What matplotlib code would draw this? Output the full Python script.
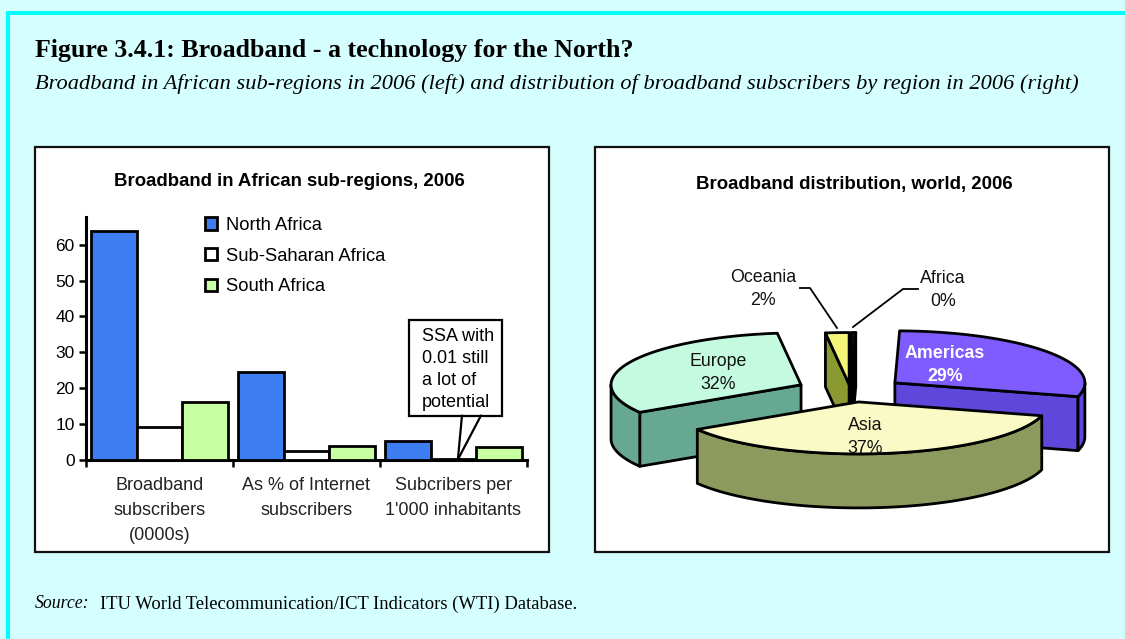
import numpy as np
import matplotlib
matplotlib.use("Agg")
import matplotlib.pyplot as plt
from matplotlib.patches import Rectangle, Polygon
import matplotlib.transforms as mtransforms

# ---------------- data ----------------
bar_categories = ["Broadband\nsubscribers\n(0000s)",
                  "As % of Internet\nsubscribers",
                  "Subcribers per\n1'000 inhabitants"]
series_names = ["North Africa", "Sub-Saharan Africa", "South Africa"]
north_africa = [63.8, 24.6, 5.2]
sub_saharan = [9.2, 2.4, 0.01]
south_africa = [16.1, 3.8, 3.5]
y_ticks = [0, 10, 20, 30, 40, 50, 60]

pie_regions = ["Africa", "Americas", "Asia", "Europe", "Oceania"]
pie_values = [0.4, 29, 37, 32, 2]

# ---------------- styles ----------------
W, H = 1125, 639
BG = "#D5FFFF"
SANS = ["Liberation Sans", "DejaVu Sans"]
SERIF = ["Liberation Serif", "DejaVu Serif"]
bar_colors = ["#3D7EF2", "#FFFFFF", "#C8FFA2"]

pie_top = {"Africa": "#111111", "Americas": "#7E5CFF", "Asia": "#FAFAC6",
           "Europe": "#C4FBE0", "Oceania": "#F4F47A"}
pie_side = {"Africa": "#000000", "Americas": "#5E47DA", "Asia": "#8C9A5E",
            "Europe": "#66A892", "Oceania": "#8A9A30"}
explode = {"Africa": 25, "Americas": 55, "Asia": 55, "Europe": 55, "Oceania": 25}
label_pos = {"Africa": (943, 290), "Americas": (945, 365), "Asia": (865, 437),
             "Europe": (718, 373), "Oceania": (763, 289)}
draw_order = ["Europe", "Americas", "Oceania", "Africa", "Asia"]

fig = plt.figure(figsize=(W / 100, H / 100), dpi=100)
fig.patch.set_facecolor(BG)

canvas = fig.add_axes([0, 0, 1, 1])
canvas.set_xlim(0, W)
canvas.set_ylim(H, 0)
canvas.axis("off")

# cyan frame
canvas.add_patch(Rectangle((6, 11), W - 6, 3.5, color="#00FFFF", lw=0))
canvas.add_patch(Rectangle((6, 11), 4, H - 11, color="#00FFFF", lw=0))

# panel boxes
canvas.add_patch(Rectangle((35, 147), 549 - 35, 552 - 147, facecolor="white",
                           edgecolor="#111111", lw=1.6))
canvas.add_patch(Rectangle((595, 147), 1109 - 595, 552 - 147, facecolor="white",
                           edgecolor="#111111", lw=1.6))

# headings
canvas.text(35, 50, "Figure 3.4.1: Broadband - a technology for the North?",
            family=SERIF, fontweight="bold", fontsize=18.6, va="center", ha="left")
canvas.text(35, 84, "Broadband in African sub-regions in 2006 (left) and distribution "
            "of broadband subscribers by region in 2006 (right)",
            family=SERIF, style="italic", fontsize=16.1, va="center", ha="left")
canvas.text(35, 604, "Source:", family=SERIF, style="italic", fontsize=12.8,
            va="center", ha="left")
canvas.text(100, 604, "ITU World Telecommunication/ICT Indicators (WTI) Database.",
            family=SERIF, fontsize=13.4, va="center", ha="left")

# chart titles
canvas.text(289, 182, "Broadband in African sub-regions, 2006", family=SANS,
            fontweight="bold", fontsize=13.4, ha="center", va="center")
canvas.text(854, 184, "Broadband distribution, world, 2006", family=SANS,
            fontweight="bold", fontsize=13.4, ha="center", va="center")

# ---------------- bar chart ----------------
ax_l, ax_r, ax_b, ax_t = 85.8, 527.0, 459.5, 217.0
ax = fig.add_axes([ax_l / W, 1 - ax_b / H, (ax_r - ax_l) / W, (ax_b - ax_t) / H])
ax.patch.set_alpha(0)
x = np.arange(len(bar_categories))
bw = 0.31
handles = []
for k, (vals, name, col) in enumerate(zip([north_africa, sub_saharan, south_africa],
                                          series_names, bar_colors)):
    b = ax.bar(x + (k - 1) * bw, vals, width=bw, color=col, edgecolor="black",
               linewidth=2, label=name, zorder=3)
    handles.append(b)
ax.set_xlim(-0.5, 2.5)
ax.set_ylim(0, 67.8)
ax.set_yticks(y_ticks)
ax.set_yticklabels([str(v) for v in y_ticks], family=SANS, fontsize=12.5)
ax.set_xticks([-0.5, 0.5, 1.5, 2.5])
ax.set_xticklabels([])
ax.tick_params(axis="both", direction="out", length=5, width=1.8, pad=3)
for s in ["top", "right"]:
    ax.spines[s].set_visible(False)
for s in ["left", "bottom"]:
    ax.spines[s].set_linewidth(2.2)

blend = mtransforms.blended_transform_factory(ax.transData, canvas.transData)
for i, lab in enumerate(bar_categories):
    ax.text(i, 477, lab, transform=blend, ha="center", va="top", family=SANS,
            fontsize=13, color="#222222", linespacing=1.6, clip_on=False)

leg = ax.legend(handles=handles, loc="upper left",
                bbox_to_anchor=(205, 217), bbox_transform=canvas.transData,
                frameon=False, prop={"family": SANS, "size": 13.2},
                handlelength=0.65, handleheight=0.65, handletextpad=0.5,
                labelspacing=0.74, borderpad=0, borderaxespad=0)

# callout
canvas.add_patch(Rectangle((409, 320), 92.5, 95.5, facecolor="white",
                           edgecolor="black", lw=1.6, zorder=5))
canvas.text(422, 328, "SSA with\n0.01 still\na lot of\npotential", family=SANS,
            fontsize=13, ha="left", va="top", linespacing=1.38, zorder=6)
for bx in (462, 481):
    ax.annotate("", xy=(2.03, 0), xycoords="data", xytext=(bx, 415.5),
                textcoords=canvas.transData,
                arrowprops=dict(arrowstyle="-", lw=1.6, color="black",
                                shrinkA=0, shrinkB=0))

# ---------------- 3D pie ----------------
RX, RY, DEPTH = 190.0, 52.0, 54.0
CX, CY = 850.7, 390.0
k = RY / RX
total = float(sum(pie_values))
bounds = np.concatenate([[0], np.cumsum(pie_values)]) / total * 360.0
wedges = {}
for i, name in enumerate(pie_regions):
    t1, t2 = bounds[i], bounds[i + 1]
    bis = np.radians((t1 + t2) / 2)
    e = explode[name]
    cx = CX + e * np.sin(bis)
    cy = CY - e * np.cos(bis) * k * 0.8
    wedges[name] = (t1, t2, cx, cy)


def rim(cx, cy, th):
    t = np.radians(th)
    return np.column_stack([cx + RX * np.sin(t), cy - RY * np.cos(t)])


def poly(pts, fc):
    canvas.add_patch(Polygon(pts, closed=True, facecolor=fc, edgecolor="black",
                             lw=2.0, joinstyle="round"))


down = np.array([0, DEPTH])
for name in draw_order:
    t1, t2, cx, cy = wedges[name]
    c = np.array([cx, cy])
    side = pie_side[name]
    # radial faces
    for th, vis in ((t1, np.cos(np.radians(t1 - 90)) < 0),
                    (t2, np.cos(np.radians(t2 + 90)) < 0)):
        if vis:
            p = rim(cx, cy, [th])[0]
            poly(np.array([c, p, p + down, c + down]), side)
    # outer curved face (front half)
    a, b = max(t1, 90), min(t2, 270)
    if b > a:
        arc = rim(cx, cy, np.linspace(a, b, 80))
        poly(np.vstack([arc, (arc + down)[::-1]]), side)
    # top face
    arc = rim(cx, cy, np.linspace(t1, t2, max(3, int((t2 - t1) * 2))))
    poly(np.vstack([c, arc]), pie_top[name])

for name, v in zip(pie_regions, pie_values):
    px, py = label_pos[name]
    white = name == "Americas"
    canvas.text(px, py, f"{name}\n{round(v)}%", family=SANS, fontsize=12.8,
                ha="center", va="center", linespacing=1.5,
                color="white" if white else "#111111",
                fontweight="bold" if white else "normal")

# leader lines
canvas.plot([800, 810, 837], [288, 288, 328], color="black", lw=1.3)
canvas.plot([918, 903, 853], [289, 289, 327], color="black", lw=1.3)

fig.savefig("out.png", dpi=100, facecolor=BG)
